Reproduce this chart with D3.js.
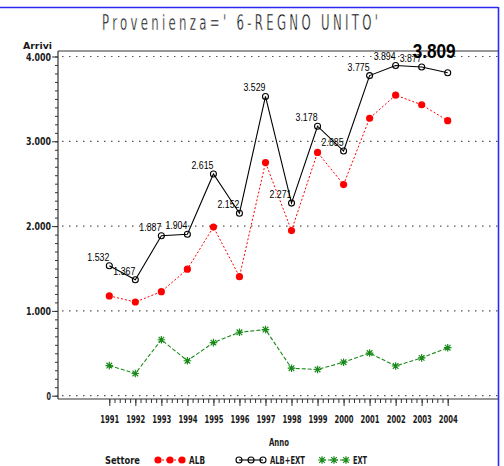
<!DOCTYPE html>
<html><head><meta charset="utf-8">
<script src="https://cdn.jsdelivr.net/npm/d3@7"></script>
<style>
html,body{margin:0;padding:0;background:#fff;}
svg{display:block;}
</style></head>
<body>
<svg id="chart" width="504" height="466"></svg>
<script>
const years = [1991,1992,1993,1994,1995,1996,1997,1998,1999,2000,2001,2002,2003,2004];
const albExt = [1532,1367,1887,1904,2615,2152,3529,2271,3178,2885,3775,3894,3877,3809];
const alb = [1177,1105,1227,1492,1989,1404,2749,1947,2869,2490,3272,3544,3431,3243];
const ext = [355,262,660,412,626,748,780,324,309,395,503,350,446,566];
const yTicks = [0,1000,2000,3000,4000];
const titleText = "Provenienza=' 6-REGNO UNITO'";
const seriesNames = ["ALB","ALB+EXT","EXT"];

(function(){
const svg = d3.select("#chart");
const loc = d3.formatLocale({decimal:",", thousands:".", grouping:[3], currency:["","€"]});
const fmt = loc.format(",");

const x = d3.scaleLinear().domain([1991,2004]).range([109.3,447.7]);
const y = d3.scaleLinear().domain([0,4000]).range([395.7,56.5]);
const pL = 58, pR = 498, pT = 51, pB = 399;
const axisFont = "'DejaVu Sans Condensed','DejaVu Sans',sans-serif";
const ink = "#1a1a1a";
const cw = 4.8;

// blue border
svg.append("line").attr("x1",0).attr("x2",498).attr("y1",7.5).attr("y2",7.5).attr("stroke","#2b2bf0").attr("stroke-width",1.6);
svg.append("line").attr("x1",498.5).attr("x2",498.5).attr("y1",7).attr("y2",466).attr("stroke","#2b2bf0").attr("stroke-width",1.6);

// title (thin, narrow letters with wide spacing)
const ts = 0.62;
svg.append("text").attr("transform",`translate(102,30) scale(${ts},1)`)
  .attr("font-family",axisFont)
  .attr("font-size",21).attr("textLength",276/ts).attr("lengthAdjust","spacing")
  .attr("fill","#000").attr("stroke","#fff").attr("stroke-width",0.45)
  .text(titleText);

// frame
svg.append("line").attr("x1",pL).attr("x2",pR).attr("y1",pT).attr("y2",pT).attr("stroke","#333").attr("stroke-width",1.2);
svg.append("line").attr("x1",pL).attr("x2",pL).attr("y1",pT).attr("y2",pB).attr("stroke","#333").attr("stroke-width",1.2);
svg.append("line").attr("x1",pL).attr("x2",pR).attr("y1",pB).attr("y2",pB).attr("stroke","#333").attr("stroke-width",1.2);

// gridlines
svg.append("g").selectAll("line").data(yTicks).join("line")
  .attr("x1",62).attr("x2",pR).attr("y1",d=>y(d)).attr("y2",d=>y(d))
  .attr("stroke","#555").attr("stroke-width",1.2).attr("stroke-dasharray","1.5,5.5");

function narrow(sel){
  sel.attr("font-family",axisFont).attr("font-size",11).attr("font-weight","bold").attr("fill",ink)
    .attr("lengthAdjust","spacingAndGlyphs")
    .attr("textLength",function(){ return this.textContent.length*cw; });
}

// y axis
const yMinor = d3.range(0,4001,100);
svg.append("g").attr("transform",`translate(${pL},0)`)
  .call(d3.axisLeft(y).tickValues(yMinor).tickSize(3).tickFormat(""))
  .call(g=>{g.select(".domain").remove(); g.selectAll("line").attr("stroke","#333");});
const yAx = svg.append("g").attr("transform",`translate(${pL},0)`)
  .call(d3.axisLeft(y).tickValues(yTicks).tickSize(6).tickPadding(1).tickFormat(fmt));
yAx.select(".domain").remove();
yAx.selectAll("line").attr("stroke","#333");
yAx.selectAll("text").call(narrow).attr("textLength",function(){ const t=this.textContent; return t.length===1?4.5:25; });

svg.append("text").attr("x",23).attr("y",49).call(narrow).attr("font-size",9.5).attr("textLength",29).text("Arrivi");

// x axis
const xMinor = d3.range(0,66).map(i=>1991+i*0.2);
svg.append("g").attr("transform",`translate(0,${pB})`)
  .call(d3.axisBottom(x).tickValues(xMinor).tickSize(4).tickFormat(""))
  .call(g=>{g.select(".domain").remove(); g.selectAll("line").attr("stroke","#333");});
const xAx = svg.append("g").attr("transform",`translate(0,${pB})`)
  .call(d3.axisBottom(x).tickValues(years).tickSize(7).tickPadding(9).tickFormat(d3.format("d")));
xAx.select(".domain").remove();
xAx.selectAll("line").attr("stroke","#333");
xAx.selectAll("text").call(narrow).attr("textLength",19);

svg.append("text").attr("x",269).attr("y",445.5).call(narrow).attr("textLength",20).text("Anno");

// lines
const rows = (vals)=>years.map((yr,i)=>({yr, v:vals[i]}));
const line = d3.line().x(d=>x(d.yr)).y(d=>y(d.v));

svg.append("path").datum(rows(albExt)).attr("d",line).attr("fill","none").attr("stroke","#000").attr("stroke-width",1.1);
svg.append("path").datum(rows(alb)).attr("d",line).attr("fill","none").attr("stroke","#ff0000").attr("stroke-width",1).attr("stroke-dasharray","2,2");
svg.append("path").datum(rows(ext)).attr("d",line).attr("fill","none").attr("stroke","#1a8a1a").attr("stroke-width",1.1).attr("stroke-dasharray","4,2");

// markers
function redDot(g, cx, cy){ g.append("circle").attr("cx",cx).attr("cy",cy).attr("r",3.6).attr("fill","#ff0000"); }
function openCirc(g, cx, cy){ g.append("circle").attr("cx",cx).attr("cy",cy).attr("r",3).attr("fill","none").attr("stroke","#000").attr("stroke-width",1.1); }
function star(g, cx, cy){
  const s=3.8, d=2.8;
  const p = `M${cx-s},${cy}L${cx+s},${cy}M${cx},${cy-s}L${cx},${cy+s}M${cx-d},${cy-d}L${cx+d},${cy+d}M${cx-d},${cy+d}L${cx+d},${cy-d}`;
  g.append("path").attr("d",p).attr("stroke","#1a8a1a").attr("stroke-width",1.2).attr("fill","none");
}
const mk = svg.append("g");
rows(alb).forEach(d=>redDot(mk, x(d.yr), y(d.v)));
rows(albExt).forEach(d=>openCirc(mk, x(d.yr), y(d.v)));
rows(ext).forEach(d=>star(mk, x(d.yr), y(d.v)));

// point labels
const lab = svg.append("g");
rows(albExt).forEach((d,i)=>{
  if(i===years.length-1) return;
  lab.append("text").attr("x",x(d.yr)).attr("y",y(d.v)-5).attr("text-anchor","end")
    .attr("font-family","'Liberation Sans',Arial,sans-serif").attr("font-size",10).attr("fill","#000")
    .attr("textLength",22).attr("lengthAdjust","spacingAndGlyphs")
    .text(fmt(d.v));
});
const lastI = years.length-1;
lab.append("text").attr("x",x(years[lastI])+8).attr("y",y(albExt[lastI])-15).attr("text-anchor","end")
  .attr("font-family","'Liberation Sans',Arial,sans-serif").attr("font-size",20).attr("font-weight","bold")
  .attr("textLength",43).attr("lengthAdjust","spacingAndGlyphs").attr("fill","#000").text(fmt(albExt[lastI]));

// legend
const lg = svg.append("g");
const ly = 460;
lg.append("text").attr("x",105).attr("y",ly+4).call(narrow).attr("textLength",35).text("Settore");
const legendItems = [
  {name:seriesNames[0], x0:158, color:"#ff0000", dash:"2,2", m:redDot, w:16},
  {name:seriesNames[1], x0:239, color:"#000", dash:null, m:openCirc, w:35},
  {name:seriesNames[2], x0:322, color:"#1a8a1a", dash:"4,2", m:star, w:14}
];
legendItems.forEach(it=>{
  const l = lg.append("line").attr("x1",it.x0).attr("x2",it.x0+24).attr("y1",ly).attr("y2",ly).attr("stroke",it.color).attr("stroke-width",1.1);
  if(it.dash) l.attr("stroke-dasharray",it.dash);
  [0,12,24].forEach(dx=>it.m(lg, it.x0+dx, ly));
  lg.append("text").attr("x",it.x0+31).attr("y",ly+4).call(narrow).attr("textLength",it.w).text(it.name);
});
})();
</script>
</body></html>
